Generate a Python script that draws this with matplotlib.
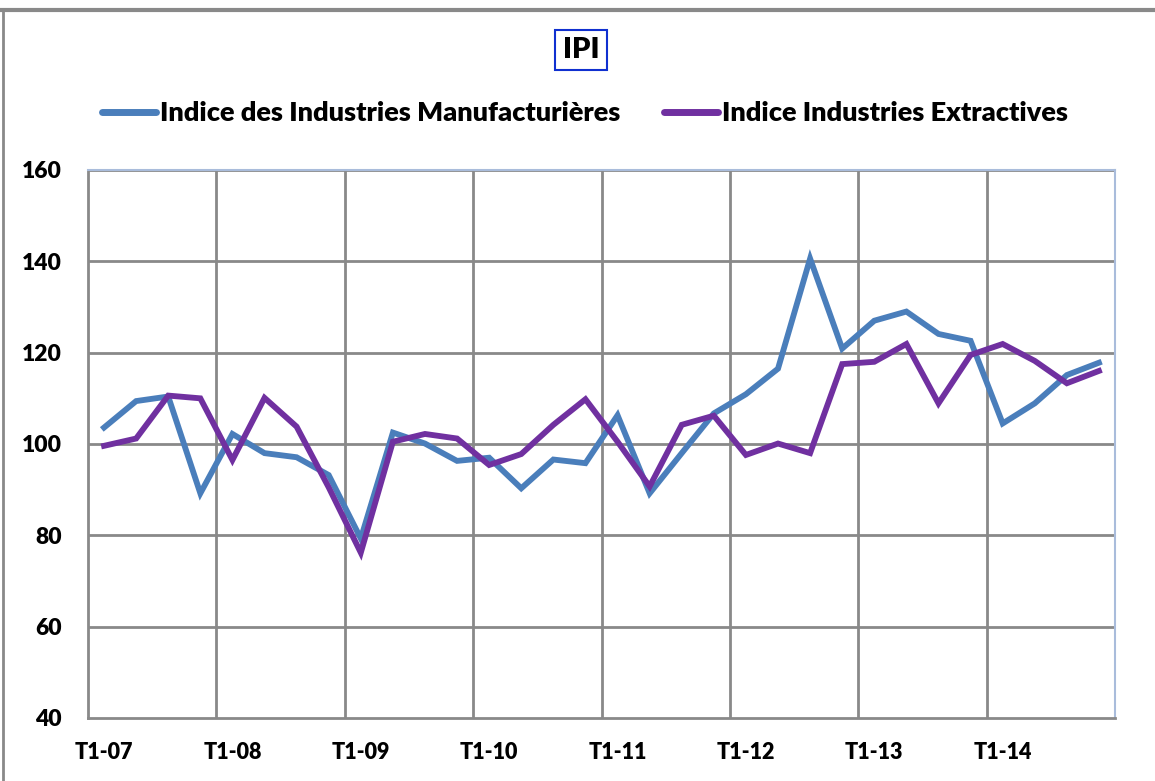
import matplotlib
matplotlib.use("Agg")
import matplotlib.pyplot as plt
from matplotlib.lines import Line2D

plt.rcParams['font.family'] = ['Lato', 'DejaVu Sans']

years = ['07', '08', '09', '10', '11', '12', '13', '14']
quarters = [f'T{q}-{y}' for y in years for q in range(1, 5)]

manuf = [103.6, 109.4, 110.4, 89.2, 102.2, 98.0, 97.1, 93.2,
         79.3, 102.5, 100.1, 96.3, 97.0, 90.3, 96.6, 95.8,
         106.3, 89.2, 98.0, 106.7, 110.9, 116.5, 140.6, 120.9,
         127.0, 129.0, 124.1, 122.6, 104.5, 108.9, 115.1, 117.8]
extract = [99.6, 101.2, 110.6, 110.0, 96.5, 110.1, 103.8, 90.5,
           76.2, 100.5, 102.2, 101.2, 95.4, 97.8, 104.2, 109.8,
           100.5, 90.7, 104.2, 106.2, 97.6, 100.1, 98.0, 117.5,
           118.0, 121.9, 108.9, 119.5, 121.9, 118.2, 113.3, 116.0]

blue = '#4A7EBB'
purple = '#7030A0'
grid = '#898989'

fig = plt.figure(figsize=(11.55, 7.81), dpi=100)
ax = fig.add_axes([88/1155, 1-718/781, (1115-88)/1155, (718-170)/781])

x = list(range(len(quarters)))
ax.plot(x, manuf, color=blue, lw=4.2, solid_joinstyle='miter', zorder=3)
ax.plot(x, extract, color=purple, lw=4.2, solid_joinstyle='miter', zorder=4)

ax.set_xlim(-0.5, len(quarters) - 0.5)
ax.set_ylim(40, 160)
ax.set_yticks(range(40, 161, 20))
for v in range(60, 161, 20):
    ax.axhline(v, color=grid, lw=2, zorder=1)
for b in range(4, len(quarters), 4):
    ax.axvline(b - 0.5, color=grid, lw=2, zorder=1)

ax.set_xticks(x[::4])
ax.set_xticklabels(quarters[::4])
ax.tick_params(axis='x', length=0, pad=17, labelsize=15.5)
ax.tick_params(axis='y', length=0, pad=19, labelsize=16.5)
for lab in ax.get_xticklabels() + ax.get_yticklabels():
    lab.set_fontweight('heavy')

for s in ['left', 'bottom']:
    ax.spines[s].set_color(grid)
    ax.spines[s].set_linewidth(2)
for s in ['top', 'right']:
    ax.spines[s].set_color('#A9BCDB')
    ax.spines[s].set_linewidth(1.5)

fig.text(581/1155, 1-50/781, 'IPI', ha='center', va='center', fontsize=21,
         fontweight='heavy',
         bbox=dict(boxstyle='square,pad=0.25', fc='white', ec='#1030D0', lw=1.5))

handles = [Line2D([], [], color=blue, lw=5, solid_capstyle='round'),
           Line2D([], [], color=purple, lw=5, solid_capstyle='round')]
fig.legend(handles, ['Indice des Industries Manufacturières', 'Indice Industries Extractives'],
           loc='center', bbox_to_anchor=(585/1155, 1-113/781), ncol=2, frameon=False,
           prop={'weight': 'heavy', 'size': 19.5}, handlelength=2.0, handletextpad=0.15,
           columnspacing=1.6)

# outer chart frame (top and left edges visible)
fig.add_artist(Line2D([0, 1], [1-10/781, 1-10/781], color=grid, lw=3, transform=fig.transFigure))
fig.add_artist(Line2D([3/1155, 3/1155], [0, 1-10/781], color=grid, lw=2, transform=fig.transFigure))

fig.savefig('out.png', dpi=100)
